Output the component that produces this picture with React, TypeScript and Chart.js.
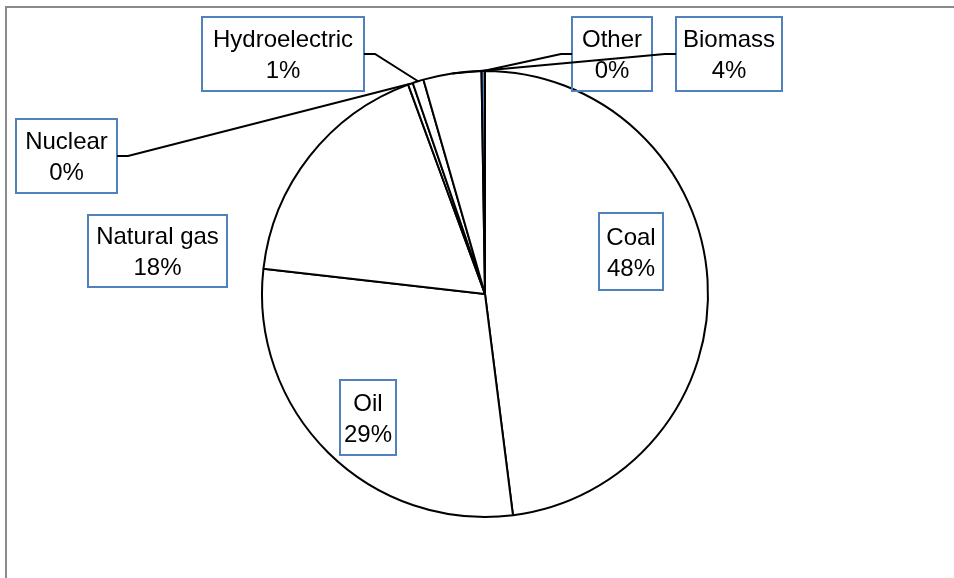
import React, { useEffect, useRef } from 'react';
import { Chart, registerables } from 'chart.js';

Chart.register(...registerables);

// ---- data ----
const categories = ['Coal', 'Oil', 'Natural gas', 'Nuclear', 'Hydroelectric', 'Biomass', 'Other'];
const shares = [48.0, 28.8, 17.6, 0.35, 0.8, 4.2, 0.25];

// ---- styling / layout ----
const sliceColors = ['#ffffff', '#ffffff', '#ffffff', '#ffffff', '#ffffff', '#ffffff', '#4f81bd'];
// label box layout: [left, top, width, height] in canvas pixels
const labelBoxes: number[][] = [
  [599, 213, 64, 77],
  [340, 380, 56, 75],
  [88, 215, 139, 72],
  [16, 119, 101, 74],
  [202, 17, 162, 74],
  [676, 17, 106, 74],
  [572, 17, 80, 74],
];
const showLeader = [false, false, false, true, true, true, true];

const FONT = "24px 'Liberation Sans', Arial, sans-serif";

const boxLabelPlugin = {
  id: 'boxLabels',
  afterDatasetsDraw(chart: any) {
    const ctx: CanvasRenderingContext2D = chart.ctx;
    const meta = chart.getDatasetMeta(0);
    const data: number[] = chart.data.datasets[0].data;
    const labels: string[] = chart.data.labels;
    const total = data.reduce((a, b) => a + b, 0);
    ctx.save();
    // boxes and text
    meta.data.forEach((arc: any, i: number) => {
      const [bl, bt, bw, bh] = labelBoxes[i];
      const cx = bl + bw / 2;
      const cy = bt + bh / 2;
      ctx.lineWidth = 2;
      ctx.strokeStyle = '#4f81bd';
      ctx.strokeRect(bl, bt, bw, bh);
      ctx.fillStyle = '#000000';
      ctx.font = FONT;
      ctx.textAlign = 'center';
      ctx.textBaseline = 'alphabetic';
      ctx.fillText(labels[i], cx, cy - 7);
      ctx.fillText(Math.round((data[i] / total) * 100) + '%', cx, cy + 24);
    });
    // leader lines
    meta.data.forEach((arc: any, i: number) => {
      if (!showLeader[i]) return;
      const p = arc.getProps(['x', 'y', 'startAngle', 'endAngle', 'outerRadius'], true);
      const mid = (p.startAngle + p.endAngle) / 2;
      const px = p.x + Math.cos(mid) * p.outerRadius;
      const py = p.y + Math.sin(mid) * p.outerRadius;
      const [bl, bt, bw, bh] = labelBoxes[i];
      const cy = bt + bh / 2;
      const right = px > bl + bw / 2;
      const sx = right ? bl + bw : bl;
      const dir = right ? 1 : -1;
      ctx.beginPath();
      ctx.moveTo(sx, cy);
      ctx.lineTo(sx + dir * 11, cy);
      ctx.lineTo(px, py);
      ctx.strokeStyle = '#000000';
      ctx.lineWidth = 2;
      ctx.stroke();
    });
    ctx.restore();
  },
};

export default function App() {
  const ref = useRef<HTMLCanvasElement>(null);
  useEffect(() => {
    if (!ref.current) return;
    const chart = new Chart(ref.current, {
      type: 'pie',
      data: {
        labels: categories,
        datasets: [
          {
            data: shares,
            backgroundColor: sliceColors,
            borderColor: '#000000',
            borderWidth: 2,
          },
        ],
      },
      options: {
        responsive: false,
        animation: false,
        devicePixelRatio: 1,
        layout: { padding: { left: 185, right: 169, top: 70, bottom: 60 } },
        plugins: {
          legend: { display: false },
          tooltip: { enabled: false },
          title: { display: false },
        },
      },
      plugins: [boxLabelPlugin],
    });
    return () => chart.destroy();
  }, []);

  return (
    <div
      style={{
        position: 'fixed',
        left: 0,
        top: 0,
        width: 954,
        height: 578,
        overflow: 'hidden',
        background: '#ffffff',
      }}
    >
      <canvas
        ref={ref}
        width={954}
        height={578}
        style={{ position: 'absolute', left: 0, top: 0, width: 954, height: 578, display: 'block' }}
      />
      <div
        style={{
          position: 'absolute',
          left: 5,
          top: 6,
          width: 1200,
          height: 1200,
          border: '2px solid #8a8a8a',
          boxSizing: 'border-box',
          pointerEvents: 'none',
        }}
      />
    </div>
  );
}
